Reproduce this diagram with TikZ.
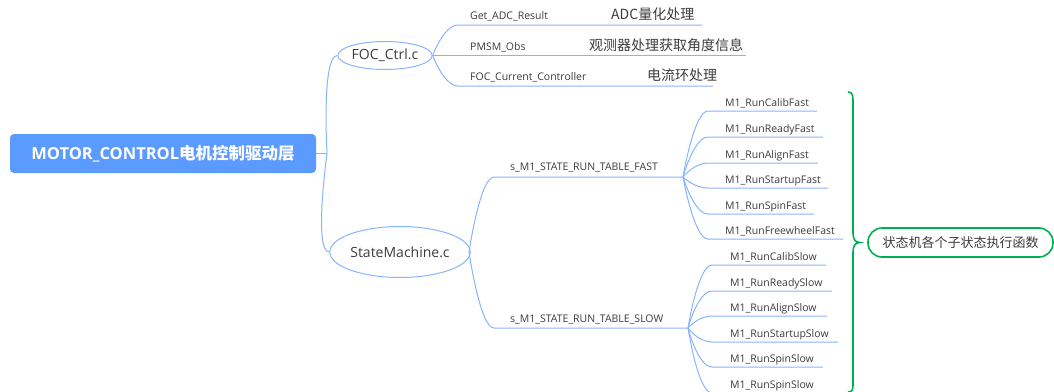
\documentclass[tikz,border=0pt]{standalone}
\usepackage{fontspec}
\setmainfont{Open Sans}
\newfontfamily\cjk{Noto Sans CJK SC}
\usetikzlibrary{calc,shapes.geometric}

\definecolor{rootblue}{RGB}{91,155,255}
\definecolor{linkblue}{RGB}{135,180,255}
\definecolor{ink}{RGB}{60,60,60}
\definecolor{notegreen}{RGB}{0,176,80}

\tikzset{
  conn/.style={draw=linkblue, line width=1pt},
  rootbox/.style={fill=rootblue, rounded corners=4pt, minimum width=306pt,
    minimum height=39pt, text=white, inner sep=0,
    font=\fontsize{16.5}{18}\selectfont\bfseries},
  filenode/.style={ellipse, draw=linkblue, line width=1pt, text=ink, inner sep=0,
    font=\fontsize{14}{16}\selectfont},
  leaf/.style={text=ink, inner sep=0, anchor=base west,
    font=\fontsize{10.5}{12}\selectfont},
  note/.style={text=ink, inner sep=0, anchor=base west,
    font=\cjk\fontsize{14}{16}\selectfont},
  summary/.style={draw=notegreen, line width=1.6pt, rounded corners=14pt,
    minimum width=185pt, minimum height=29pt, text=ink, inner sep=0,
    font=\cjk\fontsize{13}{15}\selectfont},
  brace/.style={draw=notegreen, line width=1.6pt},
}

\begin{document}
\begin{tikzpicture}[x=1pt, y=-1pt]
\useasboundingbox (0,0) rectangle (1054,391);

% root and first-level files
\node[rootbox] (root) at (163,153.5) {MOTOR\_CONTROL{\cjk 电机控制驱动层}};
\node[filenode, minimum width=84pt, minimum height=28pt] (foc) at (385,55.5) {FOC\_Ctrl.c};
\node[filenode, minimum width=116pt, minimum height=51pt] (sm) at (400,252) {StateMachine.c};

\coordinate (trunk) at (327,153.5);
\draw[conn] (root.east) -- (trunk);
\draw[conn] (trunk) .. controls (trunk) and ($(foc.west)+(-16,0)$) .. (foc.west);
\draw[conn] (trunk) .. controls (trunk) and ($(sm.west)+(-16,0)$) .. (sm.west);

% FOC_Ctrl.c functions and their notes
\node[leaf] (adc)  at (470,19.5) {Get\_ADC\_Result};
\node[leaf] (obs)  at (470,50)   {PMSM\_Obs};
\node[leaf] (cur)  at (470,80.5) {FOC\_Current\_Controller};
\node[note] (adcn) at (611,19.5) {ADC量化处理};
\node[note] (obsn) at (589,50)   {观测器处理获取角度信息};
\node[note] (curn) at (647,80)   {电流环处理};

\coordinate (q1) at (458,25);
\coordinate (q3) at (458,86);
\draw[conn] (foc.east) .. controls (foc.east) and ($(q1)+(-14,0)$) .. (q1) -- (702,25);
\draw[conn] (foc.east) -- (746,55.5);
\draw[conn] (foc.east) .. controls (foc.east) and ($(q3)+(-14,0)$) .. (q3) -- (713,86);

% state tables
\coordinate (smj) at (469,252);
\draw[conn] (sm.east) -- (smj);
\node[leaf] (fast) at (510,170) {s\_M1\_STATE\_RUN\_TABLE\_FAST};
\node[leaf] (slow) at (510,322) {s\_M1\_STATE\_RUN\_TABLE\_SLOW};
\coordinate (fastq) at (494,177);
\coordinate (slowq) at (494,328);
\coordinate (fastj) at (683,177);
\coordinate (slowj) at (688,328);
\draw[conn] (smj) .. controls (smj) and ($(fastq)+(-14,0)$) .. (fastq) -- (fastj);
\draw[conn] (smj) .. controls (smj) and ($(slowq)+(-14,0)$) .. (slowq) -- (slowj);

% fast-loop handlers
\foreach \i/\y/\t/\e in {
  1/111/M1\_RunCalibFast/817,
  2/137/M1\_RunReadyFast/823,
  3/163/M1\_RunAlignFast/818,
  4/188/M1\_RunStartupFast/828,
  5/214/M1\_RunSpinFast/814,
  6/239/M1\_RunFreewheelFast/843}{
  \coordinate (fq\i) at (708,\y);
  \node[leaf] (f\i) at (725,\y-5) {\t};
  \draw[conn] (fastj) .. controls (fastj) and ($(fq\i)+(-14,0)$) .. (fq\i) -- (\e,\y);
}

% slow-loop handlers
\foreach \i/\y/\t/\e in {
  1/265/M1\_RunCalibSlow/826,
  2/291/M1\_RunReadySlow/832,
  3/316/M1\_RunAlignSlow/827,
  4/342/M1\_RunStartupSlow/838,
  5/367/M1\_RunSpinSlow/823,
  6/393/M1\_RunSpinSlow/823}{
  \coordinate (sq\i) at (712,\y);
  \node[leaf] (s\i) at (730,\y-5) {\t};
  \draw[conn] (slowj) .. controls (slowj) and ($(sq\i)+(-14,0)$) .. (sq\i) -- (\e,\y);
}

% summary of the handlers
\node[summary] (sum) at (960.5,242.5) {状态机各个子状态执行函数};
\coordinate (tip) at (860,242.5);
\draw[brace] (848,92) .. controls (853,92) and (853,96) .. (853,103)
  -- (853,233) .. controls (853,239) and (855,242.5) .. (tip)
  .. controls (855,242.5) and (853,246) .. (853,252)
  -- (853,383) .. controls (853,389) and (853,392) .. (848,392);
\end{tikzpicture}
\end{document}
